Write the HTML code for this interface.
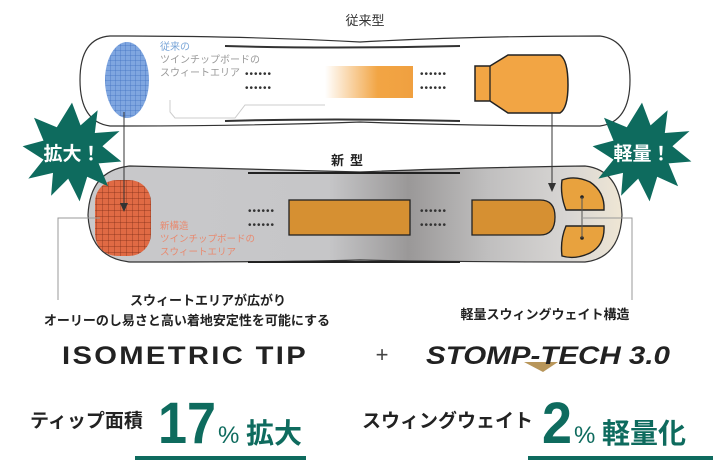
<!DOCTYPE html>
<html><head><meta charset="utf-8"><style>
body{margin:0;background:#fff;width:719px;height:470px;overflow:hidden}
svg{display:block}
text{font-family:"Liberation Sans","Noto Sans CJK JP",sans-serif}
</style></head><body>
<svg width="719" height="470" viewBox="0 0 719 470">
<defs>
<pattern id="gb" width="5" height="5" patternUnits="userSpaceOnUse"><rect width="5" height="5" fill="#7fa6e0"/><path d="M0 0H5M0 0V5" stroke="#3f6fc0" stroke-width="0.7"/></pattern>
<pattern id="gr" width="6" height="6" patternUnits="userSpaceOnUse"><rect width="6" height="6" fill="#e06a44"/><path d="M0 0H6M0 0V6" stroke="#7a2a14" stroke-width="0.7"/></pattern>
<linearGradient id="og" x1="0" x2="1"><stop offset="0" stop-color="#f2a544" stop-opacity="0"/><stop offset="0.6" stop-color="#f2a544"/><stop offset="1" stop-color="#f0a040"/></linearGradient>
<linearGradient id="bg" x1="0" x2="1"><stop offset="0" stop-color="#c9c9cb"/><stop offset="0.45" stop-color="#c6c6c8"/><stop offset="0.6" stop-color="#9a9898"/><stop offset="0.75" stop-color="#c0bfbf"/><stop offset="0.9" stop-color="#d8d6d4"/><stop offset="1" stop-color="#efe6d4"/></linearGradient>
</defs>
<text x="365" y="25" font-size="13" text-anchor="middle" fill="#333">従来型</text>
<!-- old board -->
<path d="M110 36 Q250 36 360 42 Q470 36 600 36 Q630 40 630 80 Q630 122 600 126 Q470 126 360 122 Q250 126 110 126 Q80 122 80 80 Q80 38 110 36Z" fill="#fff" stroke="#333" stroke-width="1.2"/>
<path d="M225 46 Q330 49 460 46" stroke="#333" stroke-width="2" fill="none"/>
<path d="M225 121 Q330 118 460 121" stroke="#333" stroke-width="2" fill="none"/>
<ellipse cx="127" cy="80" rx="22" ry="38" fill="url(#gb)"/>
<text font-size="10" fill="#7aa6d8"><tspan x="160" y="50">従来の</tspan></text>
<text font-size="10" fill="#999"><tspan x="160" y="63">ツインチップボードの</tspan><tspan x="160" y="76">スウィートエリア</tspan></text>
<text x="245" y="77" font-size="10" fill="#333" letter-spacing="1">••••••</text>
<text x="245" y="91" font-size="10" fill="#333" letter-spacing="1">••••••</text>
<path d="M170 100 V112 L175 118 H235 L245 105 H325" fill="none" stroke="#ccc"/>
<rect x="325" y="66" width="88" height="32" fill="url(#og)"/>
<text x="420" y="77" font-size="10" fill="#333" letter-spacing="1">••••••</text>
<text x="420" y="91" font-size="10" fill="#333" letter-spacing="1">••••••</text>
<path d="M475 66 H490 L508 55 H560 Q568 60 568 85 Q568 108 560 113 H508 L490 101 H475 Z" fill="#f2a544" stroke="#222" stroke-width="1.5"/>
<line x1="490" y1="66" x2="490" y2="101" stroke="#222" stroke-width="1.3"/>
<!-- new board -->
<path d="M130 166 Q300 170 360 172 Q450 168 585 166 Q620 170 622 215 Q620 258 585 262 Q450 262 360 260 Q300 262 130 262 Q90 258 88 215 Q90 170 130 166Z" fill="url(#bg)" stroke="#333" stroke-width="1.2"/>
<path d="M248 173 H460" stroke="#222" stroke-width="2"/>
<path d="M248 262 H460" stroke="#222" stroke-width="2"/>
<rect x="95" y="180" width="56" height="76" rx="22" fill="url(#gr)"/>
<text font-size="9.5" fill="#e88a70"><tspan x="160" y="229">新構造</tspan><tspan x="160" y="242">ツインチップボードの</tspan><tspan x="160" y="255">スウィートエリア</tspan></text>
<text x="248" y="214" font-size="10" fill="#333" letter-spacing="1">••••••</text>
<text x="248" y="228" font-size="10" fill="#333" letter-spacing="1">••••••</text>
<rect x="289" y="200" width="121" height="35" fill="#d69032" stroke="#222" stroke-width="1.3"/>
<text x="420" y="214" font-size="10" fill="#333" letter-spacing="1">••••••</text>
<text x="420" y="228" font-size="10" fill="#333" letter-spacing="1">••••••</text>
<path d="M472 200 H540 Q555 200 555 217 Q555 235 540 235 H472Z" fill="#d69032" stroke="#222" stroke-width="1.3"/>
<path d="M562 180 Q575 175 590 182 Q605 192 604 210 H566 Q560 195 562 180Z" fill="#e8a23e" stroke="#222" stroke-width="1.4"/>
<path d="M566 226 H604 Q605 245 590 253 Q575 260 562 256 Q560 240 566 226Z" fill="#e8a23e" stroke="#222" stroke-width="1.4"/>
<circle cx="582" cy="197" r="1.8" fill="#222"/><circle cx="582" cy="238" r="1.8" fill="#222"/>
<line x1="582" y1="197" x2="582" y2="238" stroke="#555"/>
<text x="350" y="165" font-size="13" font-weight="bold" text-anchor="middle" fill="#222" letter-spacing="6">新型</text>
<!-- arrows -->
<line x1="124" y1="112" x2="124" y2="205" stroke="#333"/><path d="M120 203 L124 212 L128 203Z" fill="#333"/>
<line x1="552" y1="112" x2="552" y2="185" stroke="#333"/><path d="M548 183 L552 192 L556 183Z" fill="#333"/>
<!-- brackets -->
<path d="M100 218 H58 V300" fill="none" stroke="#999"/>
<path d="M582 218 H632 V300" fill="none" stroke="#999"/>
<!-- starbursts -->
<g transform="translate(72,152) scale(0.95)"><polygon fill="#0e6b5e" points="0,-52 9,-28 27,-44 24,-20 50,-22 32,-6 52,10 28,12 38,36 16,26 8,52 -4,28 -22,46 -20,22 -46,28 -30,8 -52,-6 -30,-12 -40,-36 -16,-26"/></g>
<text x="72" y="160" font-size="19" font-weight="bold" fill="#fff" text-anchor="middle">拡大！</text>
<g transform="translate(642,152) scale(0.95)"><polygon fill="#0e6b5e" points="0,-52 9,-28 27,-44 24,-20 50,-22 32,-6 52,10 28,12 38,36 16,26 8,52 -4,28 -22,46 -20,22 -46,28 -30,8 -52,-6 -30,-12 -40,-36 -16,-26"/></g>
<text x="642" y="160" font-size="19" font-weight="bold" fill="#fff" text-anchor="middle">軽量！</text>
<!-- bottom -->
<text x="208" y="305" font-size="13" font-weight="bold" text-anchor="middle" fill="#222">スウィートエリアが広がり</text>
<text x="187" y="325" font-size="13" font-weight="bold" text-anchor="middle" fill="#222">オーリーのし易さと高い着地安定性を可能にする</text>
<text x="545" y="319" font-size="13" font-weight="bold" text-anchor="middle" fill="#222">軽量スウィングウェイト構造</text>
<text x="185" y="364" font-size="25" font-weight="bold" text-anchor="middle" fill="#222" letter-spacing="2" textLength="246" lengthAdjust="spacingAndGlyphs">ISOMETRIC TIP</text>
<text x="382" y="362" font-size="22" text-anchor="middle" fill="#444">+</text>
<path d="M524 362 H558 L543 372Z" fill="#b8965a"/>
<text x="548" y="364" font-size="25" font-weight="bold" font-style="italic" text-anchor="middle" fill="#222" textLength="244" lengthAdjust="spacingAndGlyphs">STOMP-TECH 3.0</text>
<text x="30" y="427" font-size="19" font-weight="bold" fill="#222">ティップ面積</text>
<text x="158" y="443" font-size="58" font-weight="bold" fill="#0e6b5e" textLength="58" lengthAdjust="spacingAndGlyphs">17</text>
<text x="218" y="443" font-size="24" fill="#0e6b5e">%</text>
<text x="246" y="443" font-size="28" font-weight="bold" fill="#0e6b5e">拡大</text>
<rect x="135" y="456" width="171" height="4" fill="#0e6b5e"/>
<text x="362" y="427" font-size="19" font-weight="bold" fill="#222">スウィングウェイト</text>
<text x="542" y="443" font-size="58" font-weight="bold" fill="#0e6b5e" textLength="30" lengthAdjust="spacingAndGlyphs">2</text>
<text x="574" y="443" font-size="24" fill="#0e6b5e">%</text>
<text x="602" y="443" font-size="28" font-weight="bold" fill="#0e6b5e">軽量化</text>
<rect x="528" y="456" width="185" height="4" fill="#0e6b5e"/>
</svg>
</body></html>
